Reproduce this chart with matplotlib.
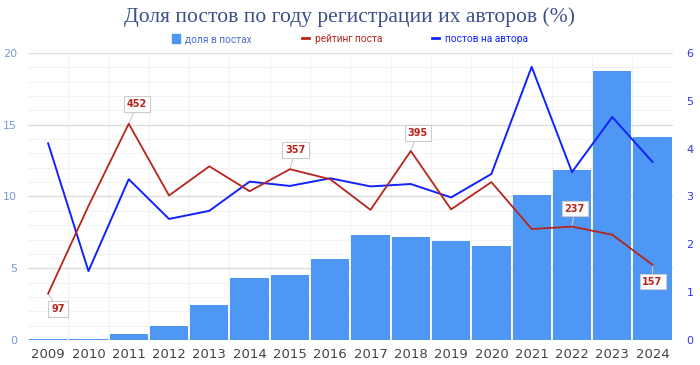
import numpy as np
import matplotlib.pyplot as plt
from matplotlib.ticker import MultipleLocator

# Data
years = [str(y) for y in range(2009, 2025)]
share_pct = [0.1, 0.1, 0.45, 0.95, 2.45, 4.3, 4.5, 5.65, 7.3, 7.2, 6.9, 6.55,
             10.1, 11.85, 18.75, 14.15]
rating = [97, 280, 452, 302, 363, 311, 357, 336, 272, 395, 273, 330,
          232, 237, 220, 157]
posts_per_author = [4.11, 1.44, 3.36, 2.53, 2.70, 3.31, 3.22, 3.38, 3.21, 3.26,
                    2.98, 3.47, 5.71, 3.51, 4.66, 3.72]
# label offsets (points) for the annotated rating values
labelled = {0: (7, -11), 2: (6, 14), 6: (4, 14), 9: (5, 13), 13: (2, 13), 15: (0, -12)}

BAR = '#4f97f5'
RED = '#b8241c'
BLUE = '#1122ff'


def main():
    fig = plt.figure(figsize=(7, 3.65), dpi=100)
    ax = fig.add_axes([0.04, 0.0685, 0.921, 0.7865])
    x = np.arange(len(years))

    ax.bar(x, share_pct, width=0.95, color=BAR, zorder=2, label='доля в постах')
    ax.set_xlim(-0.5, len(years) - 0.5)
    ax.set_ylim(0, 20)
    ax.yaxis.set_major_locator(MultipleLocator(5))
    ax.yaxis.set_minor_locator(MultipleLocator(1))
    ax.grid(axis='y', which='major', color='#dedede', lw=1, zorder=0)
    ax.grid(axis='y', which='minor', color='#f3f3f3', lw=0.8, zorder=0)
    for b in np.arange(0.5, len(years) - 1, 1):
        ax.axvline(b, color='#f3f3f3', lw=0.8, zorder=0)
    ax.set_xticks(x)
    ax.set_xticklabels(years)
    ax.tick_params(axis='x', length=0, labelsize=9.5, labelcolor='#444444', pad=6)
    ax.tick_params(axis='y', which='both', length=0, labelsize=8,
                   labelcolor='#7a98d8', pad=8)
    for s in ax.spines.values():
        s.set_visible(False)

    # right axis: posts per author
    ax2 = ax.twinx()
    ax2.plot(x, posts_per_author, color=BLUE, lw=1.4, zorder=3)
    ax2.set_ylim(0, 6)
    ax2.yaxis.set_major_locator(MultipleLocator(1))
    ax2.tick_params(axis='y', length=0, labelsize=8, labelcolor='#3333ee', pad=10)
    for s in ax2.spines.values():
        s.set_visible(False)

    # hidden axis: rating
    ax3 = ax.twinx()
    ax3.plot(x, rating, color=RED, lw=1.3, zorder=4)
    ax3.set_ylim(0, 600)
    ax3.set_yticks([])
    for s in ax3.spines.values():
        s.set_visible(False)

    for i, (dx, dy) in labelled.items():
        ax3.annotate(str(rating[i]), (x[i], rating[i]), xytext=(dx, dy),
                     textcoords='offset points', ha='center', va='center',
                     fontsize=7, fontweight='bold', color=RED,
                     bbox=dict(boxstyle='square,pad=0.3', fc='white', ec='#cccccc', lw=0.8),
                     arrowprops=dict(arrowstyle='-', color='#cccccc', lw=0.8,
                                     shrinkA=0, shrinkB=0))

    # legend
    h1 = plt.Rectangle((0, 0), 1, 1, color=BAR)
    h2 = plt.Line2D([], [], color=RED, lw=2)
    h3 = plt.Line2D([], [], color=BLUE, lw=2)
    fig.legend([h1, h2, h3], ['доля в постах', 'рейтинг поста', 'постов на автора'],
               loc='center', bbox_to_anchor=(0.5, 0.893), ncol=3, frameon=False,
               prop={'family': 'Roboto', 'size': 7.3}, handlelength=0.75,
               handleheight=0.95, handletextpad=0.55, columnspacing=4.9,
               labelcolor=['#4a6fc8', RED, BLUE])

    fig.text(0.5, 0.952, 'Доля постов по году регистрации их авторов (%)',
             ha='center', va='center', fontsize=15.5, family='Liberation Serif',
             color='#3b4f8c')

    fig.savefig('out.png', dpi=100)


if __name__ == "__main__":
    main()
